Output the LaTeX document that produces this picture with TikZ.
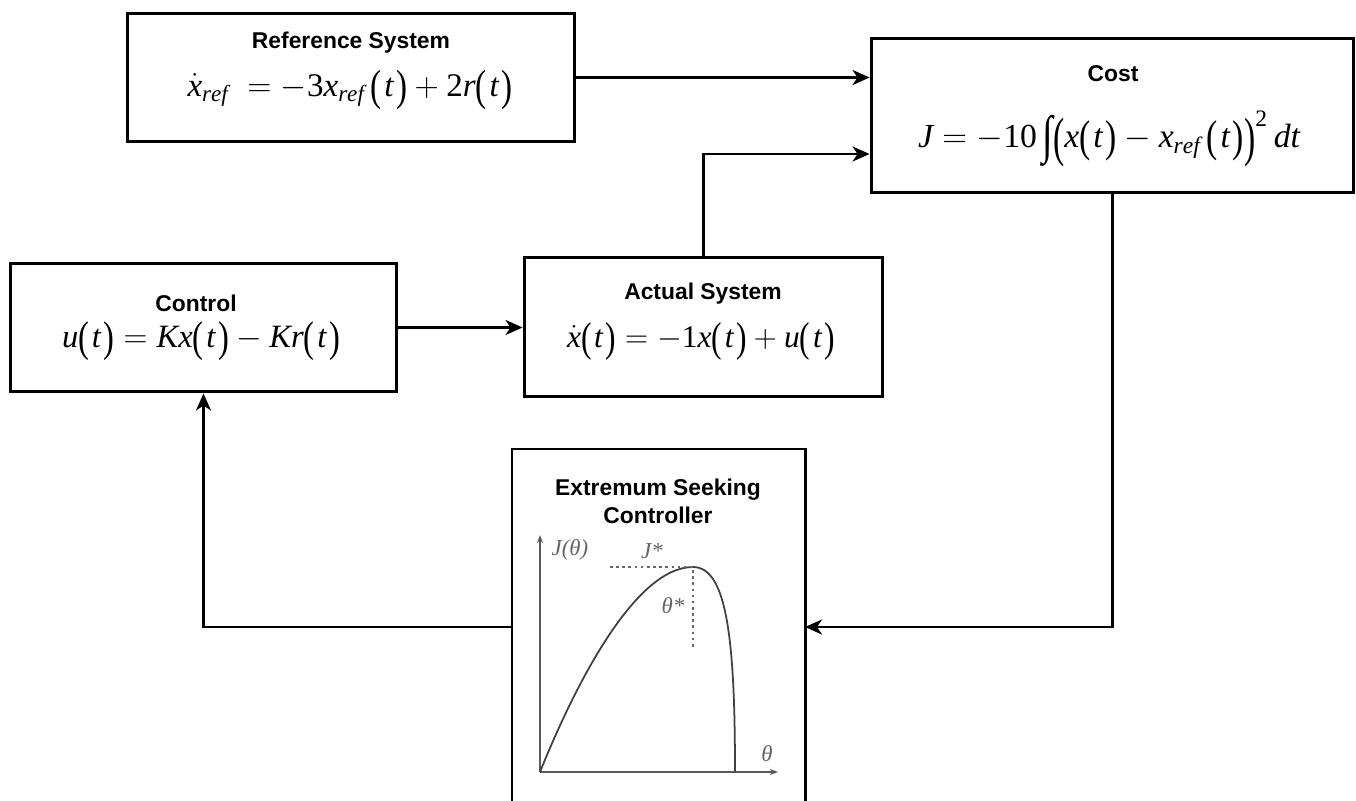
\documentclass[tikz,border=0pt]{standalone}
\usepackage[no-math]{fontspec}
\setsansfont{Liberation Sans}
\newfontfamily\tms{Liberation Serif}[NFSSFamily=libserif]
\DeclareSymbolFont{tmsit}{TU}{libserif}{m}{it}
\DeclareSymbolFont{tmsup}{TU}{libserif}{m}{n}
\DeclareMathSymbol{x}{\mathalpha}{tmsit}{`x}
\DeclareMathSymbol{r}{\mathalpha}{tmsit}{`r}
\DeclareMathSymbol{e}{\mathalpha}{tmsit}{`e}
\DeclareMathSymbol{f}{\mathalpha}{tmsit}{`f}
\DeclareMathSymbol{t}{\mathalpha}{tmsit}{`t}
\DeclareMathSymbol{u}{\mathalpha}{tmsit}{`u}
\DeclareMathSymbol{K}{\mathalpha}{tmsit}{`K}
\DeclareMathSymbol{J}{\mathalpha}{tmsit}{`J}
\DeclareMathSymbol{d}{\mathalpha}{tmsit}{`d}
\DeclareMathSymbol{0}{\mathalpha}{tmsup}{`0}
\DeclareMathSymbol{1}{\mathalpha}{tmsup}{`1}
\DeclareMathSymbol{2}{\mathalpha}{tmsup}{`2}
\DeclareMathSymbol{3}{\mathalpha}{tmsup}{`3}
\newcommand{\tint}{\mathop{\raisebox{-0.32ex}{\tms\scalebox{1.15}[1.55]{∫}}}}
\newcommand{\lp}{\mathopen{\raisebox{-0.28ex}{\tms\scalebox{1}[1.32]{(}}}}
\newcommand{\rp}{\mathclose{\raisebox{-0.28ex}{\tms\scalebox{1}[1.32]{)}}}}
\newcommand{\Lp}{\mathopen{\raisebox{-0.5ex}{\tms\scalebox{1}[1.6]{(}}}}
\newcommand{\Rp}{\mathclose{\raisebox{-0.5ex}{\tms\scalebox{1}[1.6]{)}}}}
\newcommand{\pt}{\lp\mkern1.5mu t\mkern1.5mu\rp}
\usetikzlibrary{arrows.meta}
\tikzset{
  blk/.style={draw=black, line width=1.7pt, rectangle, inner sep=0pt},
  ttl/.style={font=\sffamily\bfseries\fontsize{13}{15}\selectfont, inner sep=0pt, align=center},
  eqn/.style={inner sep=0pt, font=\fontsize{17}{20}\selectfont},
  conn/.style={line width=1.5pt, -{Stealth[length=0.34cm, width=0.3cm, inset=0.1cm]}},
  plotax/.style={draw=black!65, line width=0.9pt, -{Stealth[length=0.16cm, width=0.12cm]}},
  plotlbl/.style={inner sep=0pt, text=black!60, font=\tms\itshape\fontsize{13}{15}\selectfont},
}
\newcommand{\fitw}[2]{\resizebox{#1}{!}{$#2$}}
\begin{document}
\begin{tikzpicture}[x=0.02cm, y=-0.02cm]
\useasboundingbox (0,0) rectangle (1356,801);
% boxes
\node[blk, minimum width=8.96cm, minimum height=2.58cm] (ref) at (351,77.5) {};
\node[blk, minimum width=9.66cm, minimum height=3.1cm] (cost) at (1112.5,115.5) {};
\node[blk, minimum width=7.74cm, minimum height=2.58cm] (ctrl) at (203.5,327.5) {};
\node[blk, minimum width=7.18cm, minimum height=2.8cm] (act) at (703.5,327) {};
% ESC box (open at bottom)
\coordinate (escTL) at (512,449);
\coordinate (escTR) at (805,449);
\coordinate (escBL) at (512,805);
\coordinate (escBR) at (805,805);
\draw[line width=1.7pt] (escBL) -- (escTL) -- (escTR) -- (escBR);
\coordinate (escL) at (512,627);
\coordinate (escR) at (805,627);
% titles and equations
\node[ttl] (refT) at (351,43) {Reference System};
\node[eqn] (refE) at (350,90) {\fitw{6.5cm}{\dot{x}_{ref}\; = -3x_{ref}\,\pt+2r\pt}};
\node[ttl] (costT) at (1113,74) {Cost};
\node[eqn] (costE) at (1109,139) {\fitw{7.64cm}{J=-10\tint\Lp x\pt-x_{ref}\,\pt\Rp^{2}\,dt}};
\node[ttl] (ctrlT) at (196,303) {Control};
\node[eqn] (ctrlE) at (201,341) {\fitw{5.56cm}{u\pt=Kx\pt-Kr\pt}};
\node[ttl] (actT) at (703,294) {Actual System};
\node[eqn] (actE) at (701,341) {\fitw{5.36cm}{\dot{x}\pt=-1x\pt+u\pt}};
\node[ttl] (escT) at (658,501) {Extremum Seeking\\[1pt]Controller};
% plot inside ESC
\coordinate (O) at (540,772);
\coordinate (ytop) at (540,535);
\coordinate (xend) at (778,772);
\coordinate (pk) at (693,567);
\coordinate (x0) at (735,772);
\draw[plotax] (O) -- (ytop);
\draw[plotax] (O) -- (xend);
\draw[black!75, line width=1pt] (O) .. controls (575,685) and (635,567) .. (pk)
  .. controls (727,567) and (735,640) .. (x0);
\coordinate (dh) at (610,567);
\coordinate (dv) at (693,650);
\draw[black!60, line width=1pt, dash pattern=on 1.5pt off 2pt] (dh) -- (pk) -- (dv);
\node[plotlbl] (lJ) at (570,550) {J(θ)};
\node[plotlbl] (lJs) at (652,551) {J*};
\node[plotlbl] (lts) at (673,606) {θ*};
\node[plotlbl] (lt) at (767,754) {θ};
% connectors
\draw[conn] (ref.east) -- (cost.west |- ref.east);
\draw[conn] (act.north) |- ([yshift=-0.77cm]cost.west);
\draw[conn] (cost.south) |- (escR);
\draw[conn] (escL) -| (ctrl.south);
\draw[conn] (ctrl.east) -- (act.west |- ctrl.east);
\end{tikzpicture}
\end{document}
